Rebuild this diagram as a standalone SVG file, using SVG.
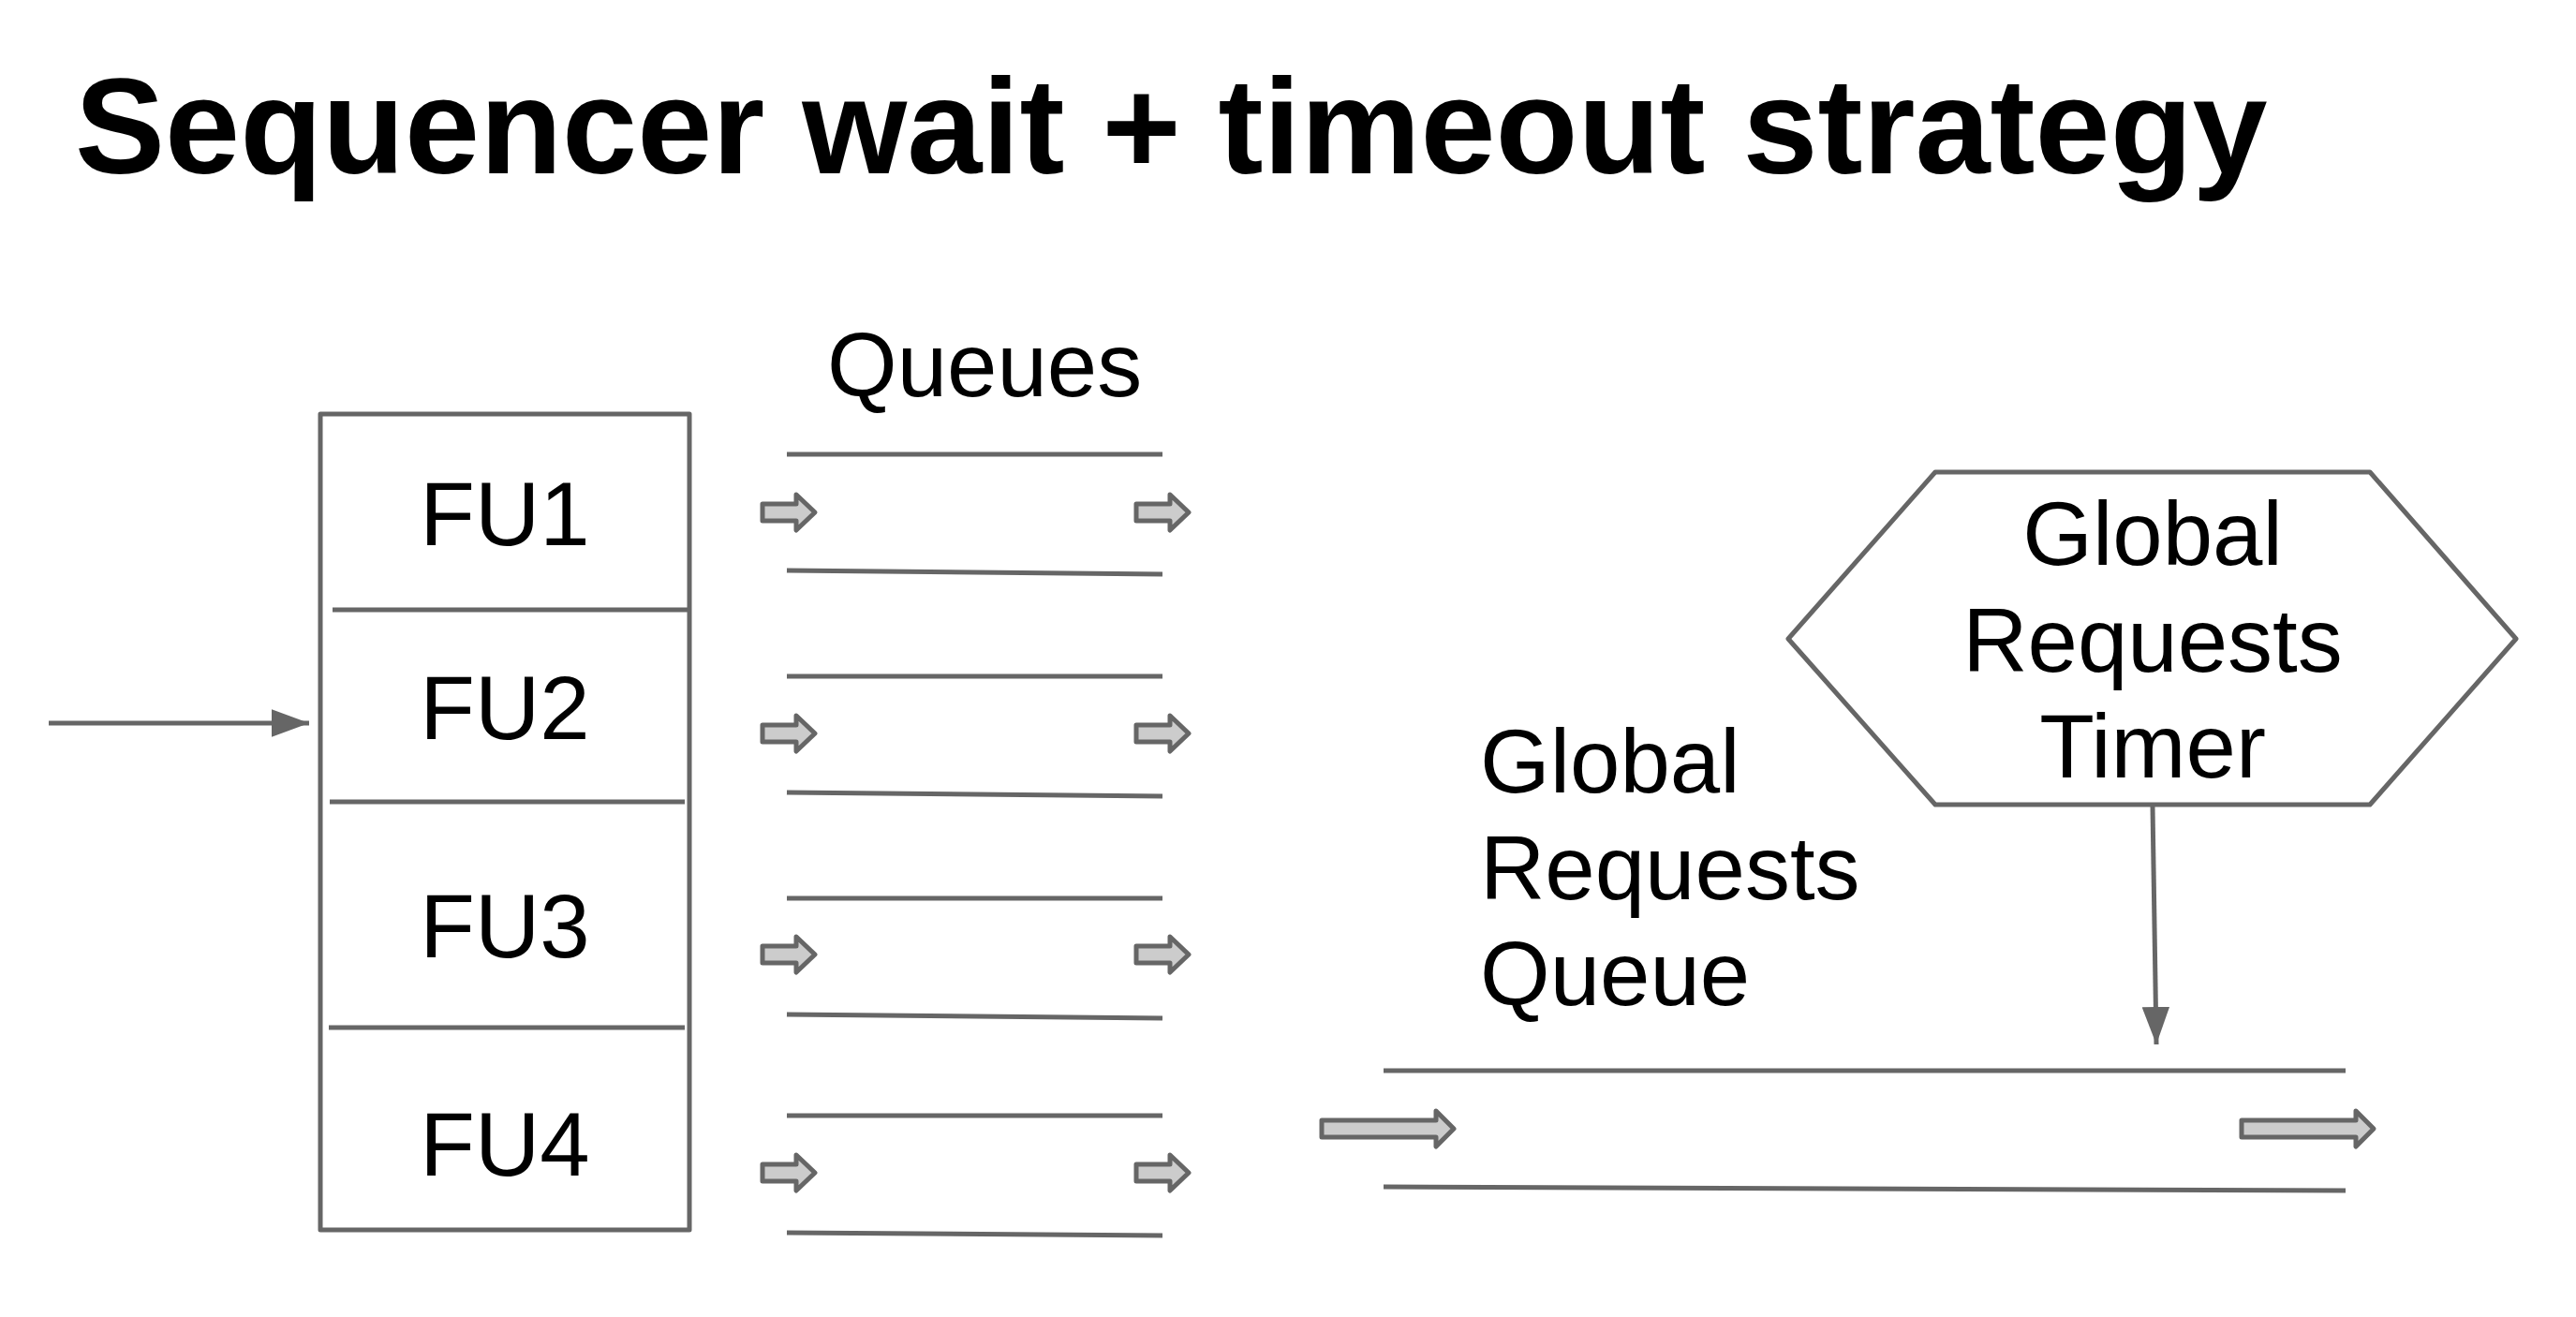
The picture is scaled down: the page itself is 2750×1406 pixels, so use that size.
<svg xmlns="http://www.w3.org/2000/svg" width="2750" height="1406" viewBox="0 0 2750 1406">
<style>
.t{font-family:"Liberation Sans",Arial,sans-serif;fill:#000}
.lbl{font-size:96px}
.ln{stroke:#666666;stroke-width:5;fill:none}
.blk{fill:#cccccc;stroke:#666666;stroke-width:5;stroke-linejoin:round}
</style>
<defs>
<marker id="ah" markerUnits="userSpaceOnUse" markerWidth="40" markerHeight="30" viewBox="0 0 38 28" refX="38" refY="14" orient="auto">
<path d="M0,0 L38,14 L0,28 Z" fill="#666666"/>
</marker>
<path id="sa" d="M0,-9 H36 V-19 L56,0 L36,19 V9 H0 Z"/>
<path id="ba" d="M0,-9 H122 V-19 L141,0 L122,19 V9 H0 Z"/>
</defs>
<rect width="2750" height="1406" fill="#ffffff"/>
<text class="t" x="80" y="185" font-size="144" font-weight="bold">Sequencer wait + timeout strategy</text>

<g id="fu-stack">
<rect class="ln" x="342" y="442" width="394" height="871" stroke-linejoin="round"/>
<line class="ln" x1="355" y1="651" x2="735" y2="651"/>
<line class="ln" x1="352" y1="856" x2="731" y2="856"/>
<line class="ln" x1="351" y1="1097" x2="731" y2="1097"/>
</g>
<g id="fu1"><text class="t lbl" x="539" y="582" text-anchor="middle">FU1</text></g>
<g id="fu2"><text class="t lbl" x="539" y="789" text-anchor="middle">FU2</text></g>
<g id="fu3"><text class="t lbl" x="539" y="1022" text-anchor="middle">FU3</text></g>
<g id="fu4"><text class="t lbl" x="539" y="1255" text-anchor="middle">FU4</text></g>

<g id="queues-label"><text class="t lbl" x="883" y="423">Queues</text></g>

<g id="queue1">
<line class="ln" x1="840" y1="485" x2="1241" y2="485"/>
<line class="ln" x1="840" y1="609" x2="1241" y2="613"/>
<use href="#sa" class="blk" x="814" y="547"/>
<use href="#sa" class="blk" x="1213" y="547"/>
</g>
<g id="queue2">
<line class="ln" x1="840" y1="722" x2="1241" y2="722"/>
<line class="ln" x1="840" y1="846" x2="1241" y2="850"/>
<use href="#sa" class="blk" x="814" y="783"/>
<use href="#sa" class="blk" x="1213" y="783"/>
</g>
<g id="queue3">
<line class="ln" x1="840" y1="959" x2="1241" y2="959"/>
<line class="ln" x1="840" y1="1083" x2="1241" y2="1087"/>
<use href="#sa" class="blk" x="814" y="1019"/>
<use href="#sa" class="blk" x="1213" y="1019"/>
</g>
<g id="queue4">
<line class="ln" x1="840" y1="1191" x2="1241" y2="1191"/>
<line class="ln" x1="840" y1="1316" x2="1241" y2="1319"/>
<use href="#sa" class="blk" x="814" y="1252"/>
<use href="#sa" class="blk" x="1213" y="1252"/>
</g>

<g id="global-queue">
<text class="t lbl" x="1580" y="846">Global</text>
<text class="t lbl" x="1580" y="960">Requests</text>
<text class="t lbl" x="1580" y="1073">Queue</text>
<line class="ln" x1="1477" y1="1143" x2="2504" y2="1143"/>
<line class="ln" x1="1477" y1="1267" x2="2504" y2="1271"/>
<use href="#ba" class="blk" x="1411" y="1205"/>
<use href="#ba" class="blk" x="2393" y="1205"/>
</g>

<g id="timer">
<polygon class="ln" points="1909,682 2066,504 2530,504 2686,682 2530,859 2066,859" stroke-linejoin="round"/>
<text class="t lbl" x="2298" y="603" text-anchor="middle">Global</text>
<text class="t lbl" x="2298" y="717" text-anchor="middle">Requests</text>
<text class="t lbl" x="2298" y="830" text-anchor="middle">Timer</text>
</g>

<g id="connectors">
<line class="ln" x1="52" y1="772" x2="330" y2="772" marker-end="url(#ah)"/>
<line class="ln" x1="2298" y1="861" x2="2302" y2="1115" marker-end="url(#ah)"/>
</g>
</svg>
